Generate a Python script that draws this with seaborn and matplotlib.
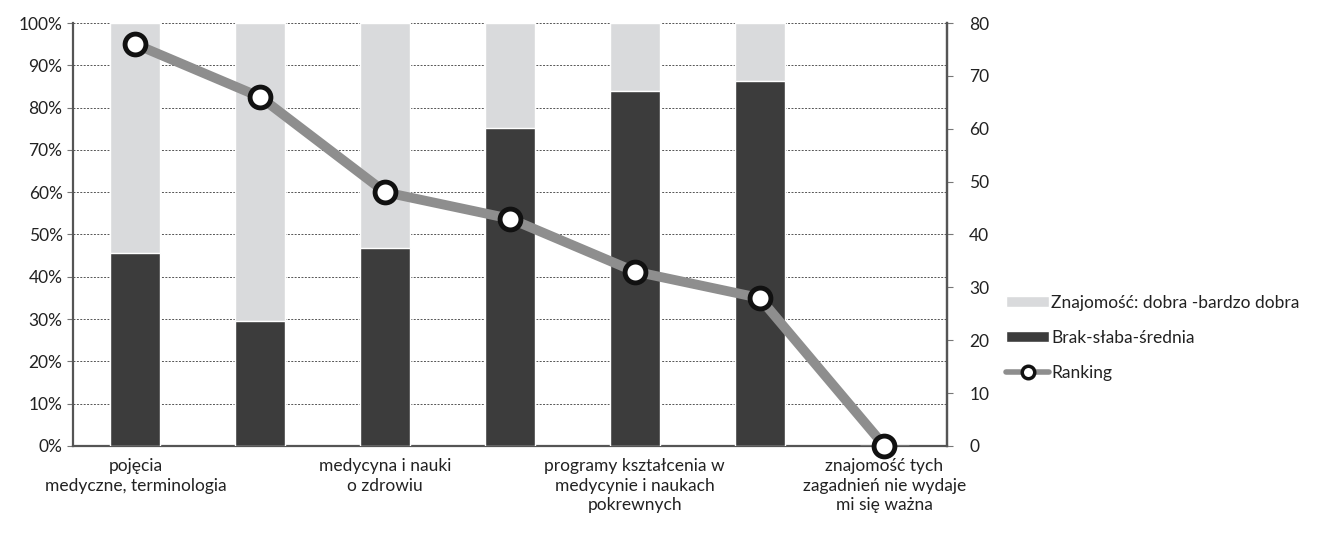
import seaborn as sns
import matplotlib.pyplot as plt
import pandas as pd
from matplotlib.patches import Patch
from matplotlib.lines import Line2D
from matplotlib.ticker import PercentFormatter, MultipleLocator

# dane
kategorie = ["k1", "k2", "k3", "k4", "k5", "k6", "k7"]
etykiety = ["pojęcia\nmedyczne, terminologia", "",
            "medycyna i nauki\no zdrowiu", "",
            "programy kształcenia w\nmedycynie i naukach\npokrewnych", "",
            "znajomość tych\nzagadnień nie wydaje\nmi się ważna"]
dobra = [54.4, 70.5, 53.2, 24.8, 16.1, 13.7, 0]      # Znajomość: dobra - bardzo dobra
slaba = [45.6, 29.5, 46.8, 75.2, 83.9, 86.3, 0]      # Brak-słaba-średnia
ranking = [76, 66, 48, 43, 33, 28, 0]

sns.set_theme(style="white")
plt.rcParams['font.family'] = ['Lato', 'DejaVu Sans']

df = pd.DataFrame({"kat": kategorie, "dobra": dobra, "slaba": slaba, "ranking": ranking})
df["razem"] = df["dobra"] + df["slaba"]

fig = plt.figure(figsize=(13.17, 5.36), dpi=100)
ax = fig.add_axes([0.0554, 0.168, 0.6636, 0.789])

jasny = "#d9dadc"
ciemny = "#3c3c3c"
fs = 12.5
sns.barplot(data=df, x="kat", y="razem", color=jasny, width=0.4, ax=ax, saturation=1, zorder=2)
sns.barplot(data=df, x="kat", y="slaba", color=ciemny, width=0.4, ax=ax, saturation=1, zorder=3)

ax.set_xlim(-0.5, 6.5)
ax.set_ylim(0, 100)
ax.yaxis.set_major_locator(MultipleLocator(10))
ax.yaxis.set_major_formatter(PercentFormatter(decimals=0))
ax.grid(axis="y", linestyle=(0, (2, 1.5)), color="#555555", linewidth=0.7, zorder=0)
ax.set_axisbelow(True)
ax.set_xlabel("")
ax.set_ylabel("")
ax.set_xticks(range(7))
ax.set_xticklabels(etykiety, fontsize=fs, color="#222222", linespacing=1.25)
ax.set_xticks([i - 0.5 for i in range(8)], minor=True)
ax.tick_params(axis="x", which="major", length=0, pad=9)
ax.tick_params(axis="x", which="minor", length=5, width=0.8, color="#777777", direction="out")
ax.tick_params(axis="y", length=4, width=0.8, color="#777777", labelsize=fs, labelcolor="#222222", left=True)
ax.spines["top"].set_visible(False)
for s in ["left", "bottom", "right"]:
    ax.spines[s].set_linestyle((0, (1.5, 1)))
    ax.spines[s].set_color("#555555")
    ax.spines[s].set_linewidth(1.6)

ax2 = ax.twinx()
sns.lineplot(x=list(range(7)), y=df["ranking"], ax=ax2, color="#8e8e8e", linewidth=7,
             marker="o", markersize=15, markerfacecolor="white", markeredgecolor="#111111",
             markeredgewidth=3.5, zorder=5, clip_on=False)
ax2.set_ylim(0, 80)
ax2.yaxis.set_major_locator(MultipleLocator(10))
ax2.set_ylabel("")
ax2.tick_params(axis="y", length=4, width=0.8, color="#777777", labelsize=fs, labelcolor="#222222", right=True, pad=12)
for s in ["top", "left", "bottom"]:
    ax2.spines[s].set_visible(False)
ax2.spines["right"].set_linestyle((0, (1.5, 1)))
ax2.spines["right"].set_color("#555555")
ax2.spines["right"].set_linewidth(1.6)
ax2.grid(False)

uchwyty = [
    Patch(facecolor=jasny, label="Znajomość: dobra -bardzo dobra"),
    Patch(facecolor=ciemny, label="Brak-słaba-średnia"),
    Line2D([0], [0], color="#8e8e8e", linewidth=4, marker="o", markersize=9,
           markerfacecolor="white", markeredgecolor="#111111", markeredgewidth=2.5, label="Ranking"),
]
fig.legend(handles=uchwyty, loc="center left", bbox_to_anchor=(0.752, 0.37), frameon=False,
           fontsize=fs, handlelength=2.5, handleheight=0.6, handletextpad=0.1, labelspacing=1.1,
           labelcolor="#222222")

fig.savefig("out.png", dpi=100)
